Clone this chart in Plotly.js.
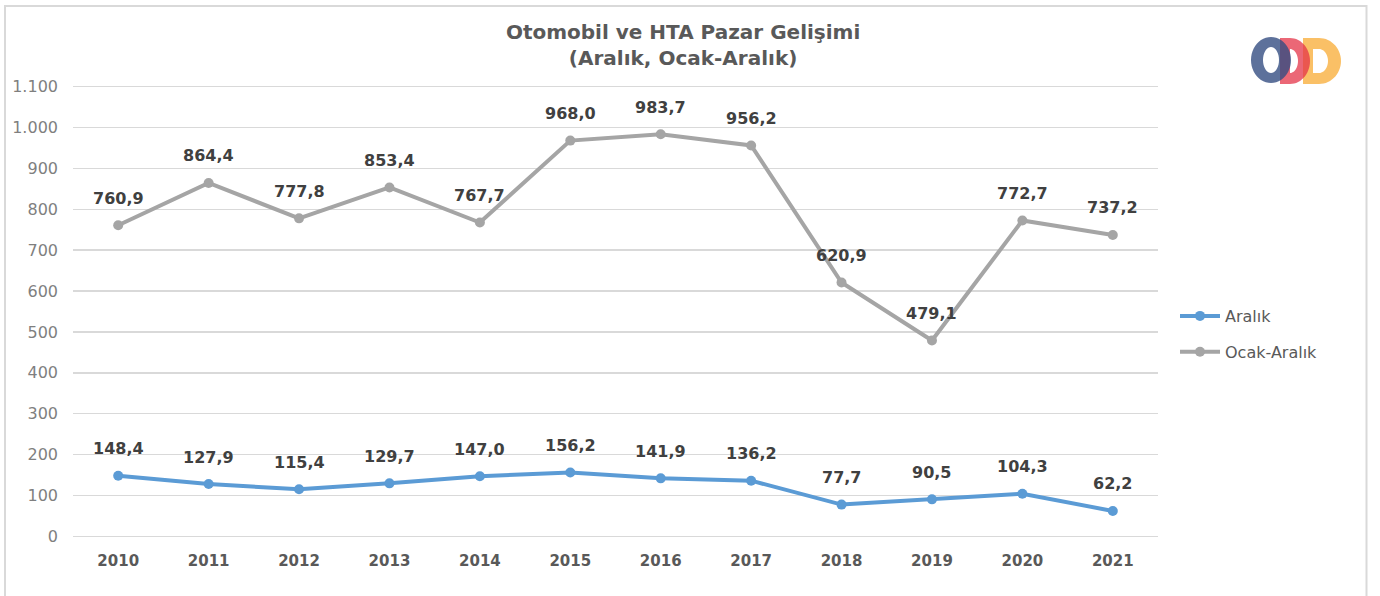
<!DOCTYPE html>
<html><head><meta charset="utf-8">
<script src="https://cdn.plot.ly/plotly-3.0.1.min.js"></script>
<style>html,body{margin:0;padding:0;background:#fff}</style>
</head><body>
<div id="chart" style="width:1380px;height:596px"></div>
<script>
const years = ['2010','2011','2012','2013','2014','2015','2016','2017','2018','2019','2020','2021'];
const aralik = [148.4,127.9,115.4,129.7,147.0,156.2,141.9,136.2,77.7,90.5,104.3,62.2];
const ocakAralik = [760.9,864.4,777.8,853.4,767.7,968.0,983.7,956.2,620.9,479.1,772.7,737.2];
const seriesNames = ['Aralık','Ocak-Aralık'];
const yTicks = [0,100,200,300,400,500,600,700,800,900,1000,1100];

const FONT = 'DejaVu Sans, sans-serif';
const fmt = v => v.toFixed(1).replace('.', ',');

// pixel -> paper helpers (plot area 73..1158 x, 85..538 y)
const L = 73, R = 1158, T = 85, B = 538;
const fx = px => (px - L) / (R - L);
const fy = py => (B - py) / (B - T);

function ellipsePts(cx, cy, rx, ry, a0, a1, n) {
  const pts = [];
  for (let i = 0; i <= n; i++) {
    const a = a0 + (a1 - a0) * i / n;
    pts.push([cx + rx * Math.cos(a), cy + ry * Math.sin(a)]);
  }
  return pts;
}
function toPath(pts) {
  return pts.map((p, i) => (i ? 'L' : 'M') + fx(p[0]).toFixed(5) + ',' + fy(p[1]).toFixed(5)).join(' ') + ' Z';
}
function dShape(x0, cx, cy, rx, ry, hx0, hrx, hry) {
  const outer = [[x0, cy - ry]].concat(ellipsePts(cx, cy, rx, ry, -Math.PI / 2, Math.PI / 2, 30)).concat([[x0, cy + ry]]);
  const inner = [[hx0, cy - hry]].concat(ellipsePts(cx, cy, hrx, hry, -Math.PI / 2, Math.PI / 2, 24)).concat([[hx0, cy + hry]]);
  return toPath(outer) + ' ' + toPath(inner);
}

const shapes = [
  // frame
  {type:'rect', xref:'paper', yref:'paper', x0:fx(5), x1:fx(1366.5), y0:fy(640), y1:fy(6),
   line:{color:'#d9d9d9', width:2}, fillcolor:'rgba(0,0,0,0)', layer:'below'},
  // logo: orange D
  {type:'path', xref:'paper', yref:'paper', path:dShape(1303, 1319, 61, 22, 23, 1313, 9, 12),
   fillcolor:'rgba(249,176,64,0.8)', line:{width:0}, fillrule:'evenodd'},
  // red D
  {type:'path', xref:'paper', yref:'paper', path:dShape(1280, 1290, 61, 20, 23, 1290, 8, 12),
   fillcolor:'rgba(228,52,72,0.75)', line:{width:0}, fillrule:'evenodd'},
  // blue O
  {type:'path', xref:'paper', yref:'paper',
   path: toPath(ellipsePts(1271, 60, 20, 23, 0, 2*Math.PI, 48)) + ' ' + toPath(ellipsePts(1271, 60, 8, 13, 0, 2*Math.PI, 36)),
   fillcolor:'rgba(52,78,130,0.8)', line:{width:0}, fillrule:'evenodd'}
];

const annotations = [];
[aralik, ocakAralik].forEach(arr => {
  arr.forEach((v, i) => annotations.push({
    x: i, y: v, xref:'x', yref:'y', text: '<b>' + fmt(v) + '</b>', showarrow:false,
    yshift: 27, font:{family:FONT, size:16, color:'#404040'}
  }));
});

const traces = [
  {x: years, y: aralik, name: seriesNames[0], legendgroup:'a', type:'scatter', mode:'lines+markers',
   line:{color:'#5b9bd5', width:4}, marker:{color:'#5b9bd5', size:10}},
  {x: years, y: ocakAralik, name: seriesNames[1], legendgroup:'b', type:'scatter', mode:'lines+markers',
   line:{color:'#a5a5a5', width:4}, marker:{color:'#a5a5a5', size:10}}
];

const layout = {
  width:1380, height:596,
  margin:{l:L, r:1380-R, t:T, b:596-B},
  paper_bgcolor:'#fff', plot_bgcolor:'#fff',
  separators:',.',
  title:{text:'<b>Otomobil ve HTA Pazar Gelişimi<br>(Aralık, Ocak-Aralık)</b>',
    x:0.495, xanchor:'center', y:0.935, yanchor:'top',
    font:{family:FONT, size:20, color:'#595959'}},
  xaxis:{type:'category', range:[-0.5, 11.5], showgrid:false, zeroline:false, showline:false,
    ticks:'', ticklabelstandoff:12,
    tickfont:{family:FONT, size:15, color:'#595959', weight:'bold'}},
  yaxis:{range:[-4,1104], tickvals:yTicks, tickformat:',d', showgrid:true, gridcolor:'#d9d9d9', gridwidth:1.5,
    zeroline:false, showline:false, ticks:'', ticklabelstandoff:14,
    tickfont:{family:FONT, size:16, color:'#7f7f7f'}},
  legend:{x:fx(1175), y:fy(299), xanchor:'left', yanchor:'top', bgcolor:'rgba(0,0,0,0)',
    traceorder:'grouped', tracegroupgap:12,
    font:{family:FONT, size:16, color:'#595959'}, itemwidth:40},
  showlegend:true,
  shapes: shapes,
  annotations: annotations
};

Plotly.newPlot('chart', traces, layout, {displayModeBar:false, staticPlot:true});
</script>
</body></html>
